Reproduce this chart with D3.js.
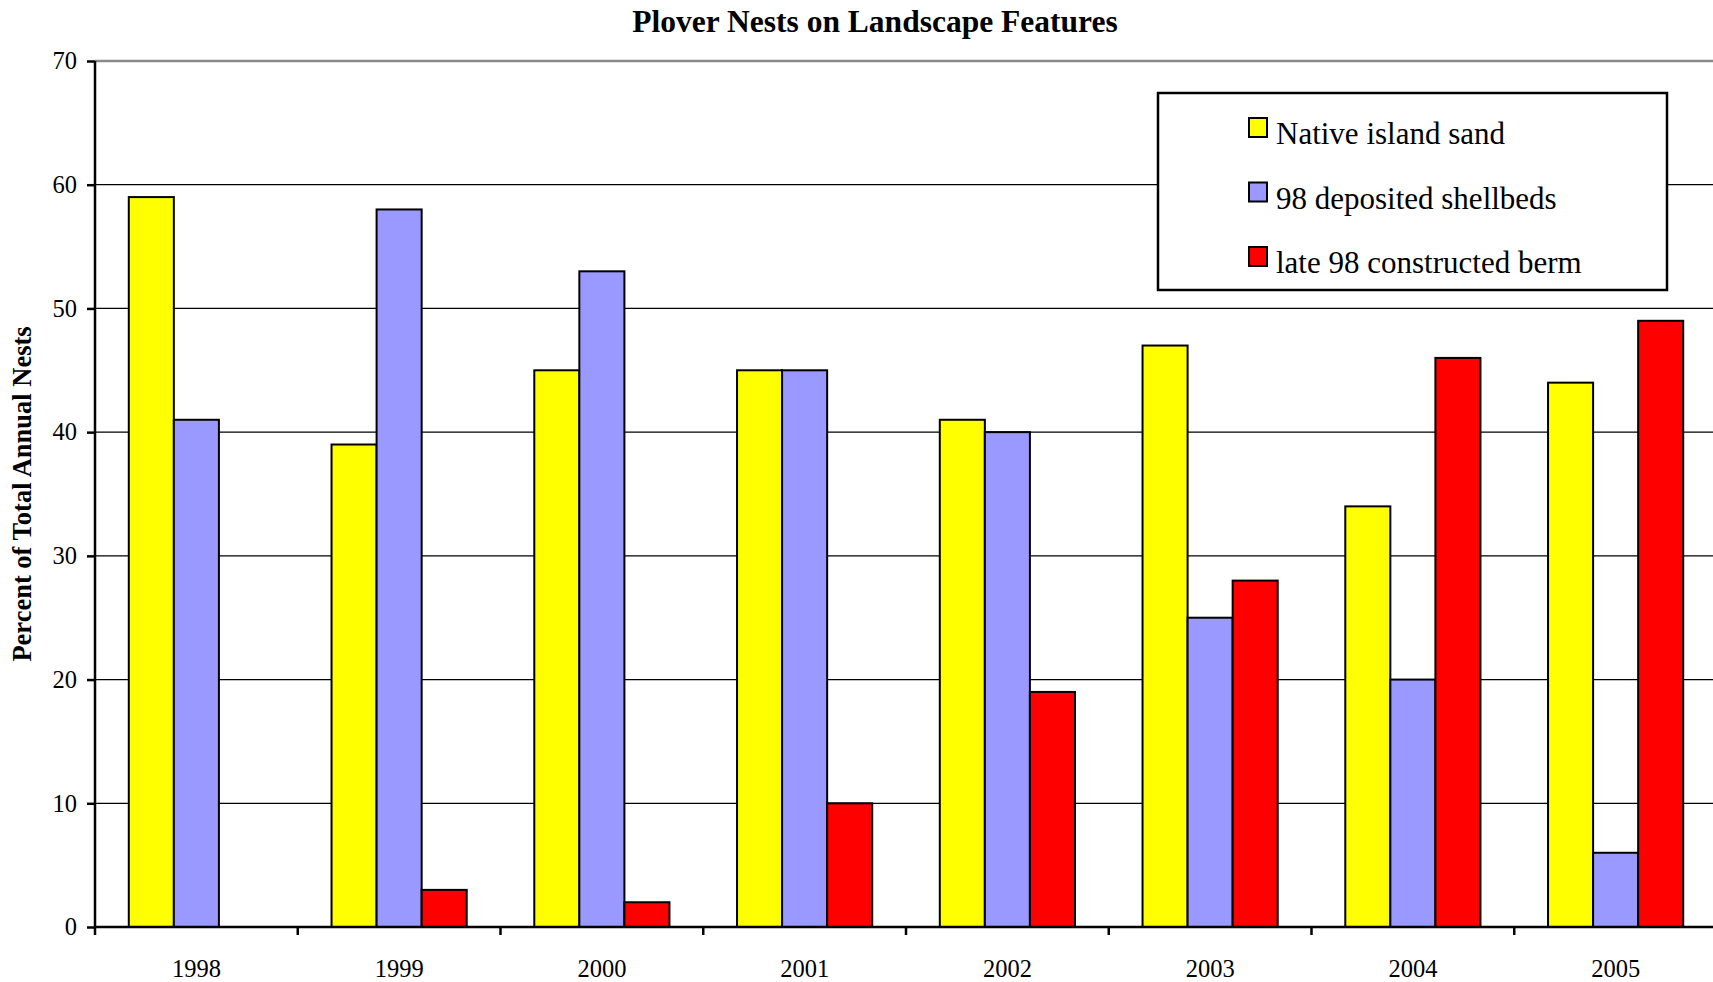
<!DOCTYPE html>
<html>
<head>
<meta charset="utf-8">
<script src="https://cdn.jsdelivr.net/npm/d3@7"></script>
<style>
  html, body { margin: 0; padding: 0; background: #fff; overflow: hidden; }
  svg { display: block; font-family: "Liberation Serif", "Times New Roman", serif; }
</style>
</head>
<body>
<svg id="chart" width="1713" height="982"></svg>
<script>
// Nest shares (% of total annual nests) by landscape feature
const years = ["1998", "1999", "2000", "2001", "2002", "2003", "2004", "2005"];
const seriesNames = ["Native island sand", "98 deposited shellbeds", "late 98 constructed berm"];
const nativeSand = [59, 39, 45, 45, 41, 47, 34, 44];
const shellbeds  = [41, 58, 53, 45, 40, 25, 20, 6];
const berm       = [null, 3, 2, 10, 19, 28, 46, 49];
const seriesColors = ["#FFFF00", "#9999FF", "#FF0000"];
const yTicks = [0, 10, 20, 30, 40, 50, 60, 70];

const seriesValues = [nativeSand, shellbeds, berm];

const svg = d3.select("#chart");
const plotLeft = 95, plotRight = 1717, plotTop = 61, plotBottom = 927;

const x = d3.scaleBand().domain(years).range([plotLeft, plotRight]).paddingInner(0).paddingOuter(0);
const xs = d3.scaleBand().domain(seriesNames).range([0, x.bandwidth()]).paddingInner(0).paddingOuter(0.75);
const y = d3.scaleLinear().domain([0, 70]).range([plotBottom, plotTop]);

// Horizontal gridlines
svg.append("g")
  .selectAll("line")
  .data(yTicks.filter(t => t > 0))
  .join("line")
  .attr("x1", plotLeft).attr("x2", plotRight)
  .attr("y1", d => y(d)).attr("y2", d => y(d))
  .attr("stroke", d => d === 70 ? "#8a8a8a" : "#000")
  .attr("stroke-width", d => d === 70 ? 2.5 : 1.3);

// Bars
const groups = svg.append("g")
  .selectAll("g")
  .data(years)
  .join("g")
  .attr("transform", d => `translate(${x(d)},0)`);

groups.selectAll("rect")
  .data((yr, i) => seriesNames.map((s, k) => ({ s, k, v: seriesValues[k][i] })).filter(d => d.v != null))
  .join("rect")
  .attr("x", d => xs(d.s))
  .attr("width", xs.bandwidth())
  .attr("y", d => y(d.v))
  .attr("height", d => y(0) - y(d.v))
  .attr("fill", d => seriesColors[d.k])
  .attr("stroke", "#000")
  .attr("stroke-width", 2);

// Y axis
const yAxis = svg.append("g")
  .attr("transform", `translate(${plotLeft},0)`)
  .call(d3.axisLeft(y).tickValues(yTicks).tickSize(8).tickPadding(10).tickFormat(d3.format("d")));
yAxis.select(".domain").attr("stroke", "#000").attr("stroke-width", 2.5)
  .attr("d", `M0,${plotTop}V${plotBottom}`);
yAxis.selectAll(".tick line").attr("stroke", "#000").attr("stroke-width", 2.5);
yAxis.selectAll(".tick text")
  .attr("font-family", "Liberation Serif, Times New Roman, serif")
  .attr("font-size", 24.5).attr("fill", "#000");

// X axis: ticks mark the boundaries between years
const xAxis = svg.append("g").attr("transform", `translate(0,${plotBottom})`);
xAxis.append("line")
  .attr("x1", plotLeft).attr("x2", plotRight).attr("y1", 0).attr("y2", 0)
  .attr("stroke", "#000").attr("stroke-width", 2.5);
xAxis.selectAll("line.tick")
  .data(years)
  .join("line")
  .attr("class", "tick")
  .attr("x1", d => x(d)).attr("x2", d => x(d))
  .attr("y1", 0).attr("y2", 8)
  .attr("stroke", "#000").attr("stroke-width", 2.5);
xAxis.selectAll("text")
  .data(years)
  .join("text")
  .attr("x", d => x(d) + x.bandwidth() / 2)
  .attr("y", 50)
  .attr("text-anchor", "middle")
  .attr("font-size", 24.5)
  .text(d => d);

// Title
svg.append("text")
  .attr("x", 875).attr("y", 32)
  .attr("text-anchor", "middle")
  .attr("font-weight", "bold")
  .attr("font-size", 31.5)
  .text("Plover Nests on Landscape Features");

// Y axis title
svg.append("text")
  .attr("transform", `translate(31,${(plotTop + plotBottom) / 2}) rotate(-90)`)
  .attr("text-anchor", "middle")
  .attr("font-weight", "bold")
  .attr("font-size", 26.5)
  .text("Percent of Total Annual Nests");

// Legend
const legend = svg.append("g");
legend.append("rect")
  .attr("x", 1158).attr("y", 93).attr("width", 509).attr("height", 197)
  .attr("fill", "#fff").attr("stroke", "#000").attr("stroke-width", 2.5);
const items = legend.selectAll("g.item")
  .data(seriesNames)
  .join("g")
  .attr("class", "item")
  .attr("transform", (d, i) => `translate(1249,${118 + i * 64.5})`);
items.append("rect")
  .attr("width", 18).attr("height", 19)
  .attr("fill", (d, i) => seriesColors[i])
  .attr("stroke", "#000").attr("stroke-width", 2);
items.append("text")
  .attr("x", 27).attr("y", 26)
  .attr("font-size", 31)
  .text(d => d);
</script>
</body>
</html>
